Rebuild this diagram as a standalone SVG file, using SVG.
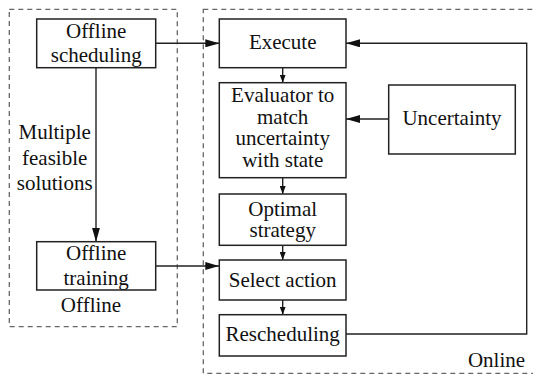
<svg xmlns="http://www.w3.org/2000/svg" width="533" height="376" viewBox="0 0 533 376">
<style>
  .box { fill: #fff; stroke: #222; stroke-width: 1.5; }
  .grp { fill: none; stroke: #666; stroke-width: 1.3; stroke-dasharray: 5 4; }
  .t { font-family: "Liberation Serif", "Times New Roman", serif; font-size: 21px; fill: #111; text-anchor: middle; }
  .c { fill: none; stroke: #222; stroke-width: 1.4; }
</style>
<defs>
  <marker id="big" viewBox="0 0 14 8" refX="14" refY="4" markerWidth="14" markerHeight="8" markerUnits="userSpaceOnUse" orient="auto">
    <path d="M0,0 L14,4 L0,8 Z" fill="#111"/>
  </marker>
  <marker id="small" viewBox="0 0 8 6" refX="8" refY="3" markerWidth="8" markerHeight="6" markerUnits="userSpaceOnUse" orient="auto">
    <path d="M0,0 L8,3 L0,6 Z" fill="#111"/>
  </marker>
</defs>
<rect width="533" height="376" fill="#fff"/>

<g id="offline-group">
  <rect class="grp" x="9.3" y="9.3" width="168" height="317.4"/>
  <text class="t" x="91" y="311.5">Offline</text>
</g>
<g id="online-group">
  <rect class="grp" x="203.3" y="9.3" width="340" height="364"/>
  <text class="t" x="496.5" y="366.5">Online</text>
</g>

<g id="connectors">
  <line class="c" x1="155.7" y1="43.3" x2="219.3" y2="43.3" marker-end="url(#big)"/>
  <line class="c" x1="155.7" y1="266" x2="219.3" y2="266" marker-end="url(#big)"/>
  <line class="c" x1="96" y1="67.7" x2="96" y2="241.7" marker-end="url(#big)"/>
  <line class="c" x1="282.7" y1="67.7" x2="282.7" y2="82.7" marker-end="url(#small)"/>
  <line class="c" x1="282.7" y1="177.7" x2="282.7" y2="194" marker-end="url(#small)"/>
  <line class="c" x1="282.7" y1="245.3" x2="282.7" y2="260" marker-end="url(#small)"/>
  <line class="c" x1="282.7" y1="300" x2="282.7" y2="314.7" marker-end="url(#small)"/>
  <line class="c" x1="388.7" y1="119" x2="346" y2="119" marker-end="url(#big)"/>
  <polyline class="c" points="346,334 526.7,334 526.7,43.3 346,43.3" marker-end="url(#big)"/>
  <text class="t" x="54.7" y="139">Multiple</text>
  <text class="t" x="54.7" y="165">feasible</text>
  <text class="t" x="54.7" y="190">solutions</text>
</g>

<g id="offline-scheduling">
  <rect class="box" x="36.7" y="19" width="119" height="48.7"/>
  <text class="t" x="96.2" y="37.7">Offline</text>
  <text class="t" x="96.2" y="61.5">scheduling</text>
</g>
<g id="offline-training">
  <rect class="box" x="36.7" y="241.7" width="119" height="48.3"/>
  <text class="t" x="96.2" y="260">Offline</text>
  <text class="t" x="96.2" y="285">training</text>
</g>
<g id="execute">
  <rect class="box" x="219.3" y="19" width="126.7" height="48.7"/>
  <text class="t" x="282.7" y="48.5">Execute</text>
</g>
<g id="evaluator">
  <rect class="box" x="219.3" y="82.7" width="126.7" height="95"/>
  <text class="t" x="282.7" y="101.7">Evaluator to</text>
  <text class="t" x="282.7" y="123.5">match</text>
  <text class="t" x="282.7" y="145.3">uncertainty</text>
  <text class="t" x="282.7" y="167">with state</text>
</g>
<g id="uncertainty">
  <rect class="box" x="388.7" y="85" width="126.6" height="69"/>
  <text class="t" x="452" y="125">Uncertainty</text>
</g>
<g id="optimal-strategy">
  <rect class="box" x="219.3" y="194" width="126.7" height="51.3"/>
  <text class="t" x="282.7" y="215.7">Optimal</text>
  <text class="t" x="282.7" y="237.3">strategy</text>
</g>
<g id="select-action">
  <rect class="box" x="219.3" y="260" width="126.7" height="40"/>
  <text class="t" x="282.7" y="286.7">Select action</text>
</g>
<g id="rescheduling">
  <rect class="box" x="219.3" y="314.7" width="126.7" height="41.3"/>
  <text class="t" x="282.7" y="341">Rescheduling</text>
</g>
</svg>
